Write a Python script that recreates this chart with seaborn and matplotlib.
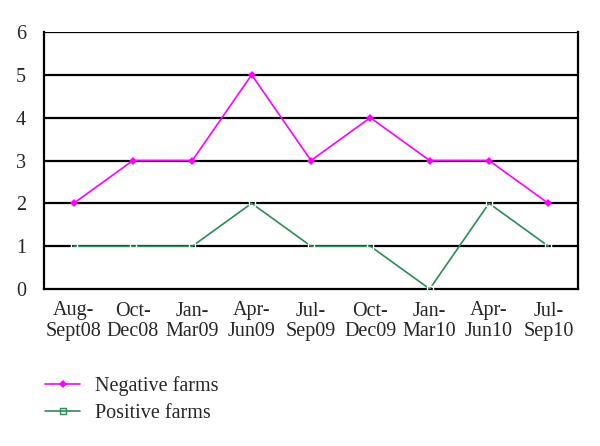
import matplotlib
matplotlib.use("Agg")
import matplotlib.pyplot as plt
import seaborn as sns
import pandas as pd
import numpy as np
from matplotlib.lines import Line2D

# data
periods = ["Aug-\nSept08", "Oct-\nDec08", "Jan-\nMar09", "Apr-\nJun09", "Jul-\nSep09",
           "Oct-\nDec09", "Jan-\nMar10", "Apr-\nJun10", "Jul-\nSep10"]
negative = [2, 3, 3, 5, 3, 4, 3, 3, 2]
positive = [1, 1, 1, 2, 1, 1, 0, 2, 1]

df = pd.DataFrame({
    "pos": list(range(len(periods))) * 2,
    "count": negative + positive,
    "series": ["Negative farms"] * len(periods) + ["Positive farms"] * len(periods),
})

sns.set_style("white")
plt.rcParams["font.family"] = ["Liberation Serif", "DejaVu Serif"]

fs = 14.5
fig = plt.figure(figsize=(6, 4.46), dpi=100)
ax = fig.add_axes([44 / 600, 1 - 289 / 446, 534 / 600, 257 / 446])

# gridlines first so the lines sit on top
for y in range(1, 7):
    ax.axhline(y, color="black", lw=1.6, zorder=1)

palette = {"Negative farms": "#ff00ff", "Positive farms": "#2e8b57"}
markers = {"Negative farms": "D", "Positive farms": "s"}
sns.lineplot(data=df, x="pos", y="count", hue="series", style="series",
             palette=palette, markers=markers, dashes=False, sort=False,
             linewidth=1.2, markersize=4, ax=ax, zorder=3, legend=False)

# open squares for positive farms
for line in ax.get_lines():
    if line.get_color() == "#2e8b57":
        line.set_markerfacecolor("none")
        line.set_markeredgewidth(1.0)
    elif line.get_color() == "#ff00ff":
        line.set_markeredgewidth(0)

ax.set_xlim(-0.5, len(periods) - 0.5)
ax.set_ylim(0, 6)
ax.set_xticks(range(len(periods)))
ax.set_xticklabels(periods, fontsize=fs, linespacing=1.08)
ax.set_xticks(np.arange(-0.5, len(periods)), minor=True)
ax.tick_params(axis="x", which="major", length=0, pad=9)
ax.tick_params(axis="x", which="minor", length=5, width=1.6, direction="out", color="black")
ax.set_yticks(range(0, 7))
ax.set_yticklabels([str(v) for v in range(0, 7)], fontsize=fs)
ax.tick_params(axis="y", length=5, width=1.6, direction="out", color="black", pad=8)
ax.set_xlabel("")
ax.set_ylabel("")

for side in ["left", "right", "bottom"]:
    ax.spines[side].set_color("black")
    ax.spines[side].set_linewidth(1.6)
ax.spines["top"].set_visible(False)

handles = [
    Line2D([], [], color="#ff00ff", marker="D", markersize=4, markeredgewidth=0, lw=1.2),
    Line2D([], [], color="#2e8b57", marker="s", markersize=4, markerfacecolor="none", lw=1.2),
]
fig.legend(handles, ["Negative farms", "Positive farms"], loc="upper left",
           bbox_to_anchor=(45 / 600, 1 - 376 / 446), frameon=False, fontsize=fs,
           borderpad=0, borderaxespad=0,
           handlelength=1.75, handletextpad=0.75, labelspacing=0.4)

fig.savefig("out.png", dpi=100)
